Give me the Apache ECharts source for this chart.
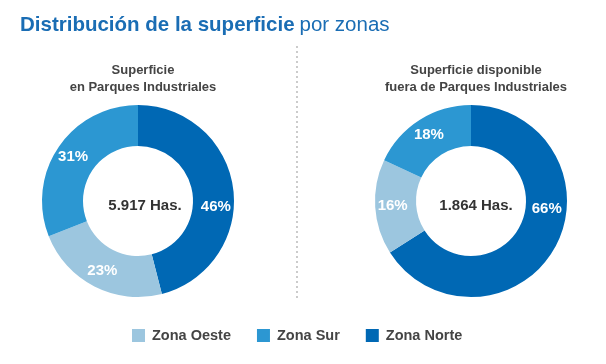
<!DOCTYPE html>
<html><head><meta charset="utf-8">
<script src="https://cdn.jsdelivr.net/npm/echarts@6/dist/echarts.min.js"></script>
<style>html,body{margin:0;padding:0;background:#fff}#c{width:606px;height:364px}</style>
</head><body><div id="c"></div>
<script>
var zones = ['Zona Oeste', 'Zona Sur', 'Zona Norte'];
var colors = ['#9cc6df', '#2c97d2', '#0068b4'];
// clockwise from 12 o'clock: Norte, Oeste, Sur
var leftValues = { 'Zona Norte': 46, 'Zona Oeste': 23, 'Zona Sur': 31 };
var rightValues = { 'Zona Norte': 66, 'Zona Oeste': 16, 'Zona Sur': 18 };
var order = ['Zona Norte', 'Zona Oeste', 'Zona Sur'];
var leftTotal = '5.917 Has.';
var rightTotal = '1.864 Has.';
var leftTitle = 'Superficie\nen Parques Industriales';
var rightTitle = 'Superficie disponible\nfuera de Parques Industriales';

var FONT = '"Liberation Sans", Arial, sans-serif';
function colorOf(z){ return colors[zones.indexOf(z)]; }
function pieData(vals, norteOffset){
  return order.map(function(z){
    var d = { name: z, value: vals[z], itemStyle: { color: colorOf(z) } };
    if (z === 'Zona Norte') d.label = { offset: norteOffset };
    return d;
  });
}
function pie(center, vals, norteOffset){
  return {
    type: 'pie', center: center, radius: [55, 96], startAngle: 90, clockwise: true,
    avoidLabelOverlap: false, silent: true, animation: false,
    label: { show: true, position: 'inside', formatter: '{c}%', color: '#fff',
      fontFamily: FONT, fontWeight: 'bold', fontSize: 15 },
    labelLine: { show: false },
    itemStyle: { borderWidth: 0 },
    data: pieData(vals, norteOffset)
  };
}
var chart = echarts.init(document.getElementById('c'), null, { renderer: 'canvas' });
chart.setOption({
  animation: false,
  color: colors,
  title: [
    { text: '{b|Distribución de la superficie} {n|por zonas}', left: 15, top: 10,
      textStyle: { rich: {
        b: { fontFamily: FONT, fontSize: 20.5, fontWeight: 'bold', color: '#1a6db4' },
        n: { fontFamily: FONT, fontSize: 20.5, fontWeight: 'normal', color: '#1a6db4' } } } },
    { text: leftTitle, left: 138, top: 57, textAlign: 'center',
      textStyle: { fontFamily: FONT, fontSize: 13, fontWeight: 'bold', color: '#444', lineHeight: 17, align: 'center' } },
    { text: rightTitle, left: 471, top: 57, textAlign: 'center',
      textStyle: { fontFamily: FONT, fontSize: 13, fontWeight: 'bold', color: '#444', lineHeight: 17, align: 'center' } },
    { text: leftTotal, left: 140, top: 193, textAlign: 'center',
      textStyle: { fontFamily: FONT, fontSize: 15, fontWeight: 'bold', color: '#333' } },
    { text: rightTotal, left: 471, top: 193, textAlign: 'center',
      textStyle: { fontFamily: FONT, fontSize: 15, fontWeight: 'bold', color: '#333' } }
  ],
  legend: {
    data: zones, bottom: 16, left: 127, itemWidth: 13, itemHeight: 13, itemGap: 26,
    icon: 'rect', selectedMode: false,
    textStyle: { fontFamily: FONT, fontSize: 14.5, fontWeight: 'bold', color: '#444', padding: [0, 0, 0, 2] }
  },
  graphic: [
    { type: 'line', shape: { x1: 297, y1: 46, x2: 297, y2: 300 },
      style: { stroke: '#aaa', lineWidth: 1.2, lineDash: [2, 3] } }
  ],
  series: [ pie([138, 201], leftValues, [0, 16]), pie([471, 201], rightValues, [7, -30]) ]
});
</script></body></html>
